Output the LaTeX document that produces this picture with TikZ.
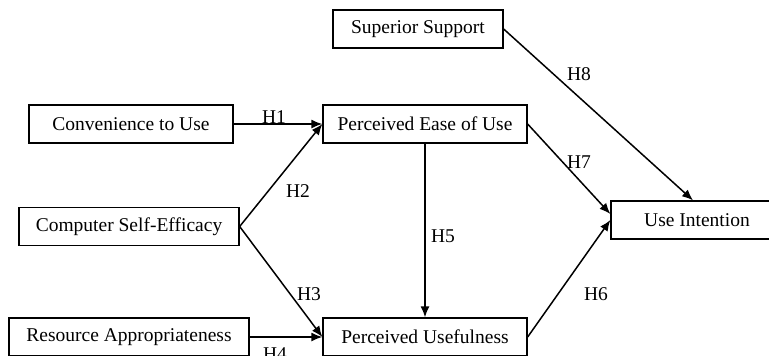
\documentclass[tikz,border=0pt]{standalone}
\usepackage{fontspec}
\setmainfont{Liberation Serif}
\usetikzlibrary{arrows.meta}

\begin{document}
\begin{tikzpicture}[x=1pt,y=-1pt,
	every node/.style={font=\fontsize{19.5pt}{23pt}\selectfont},
	box/.style={draw, line width=1.3pt, minimum height=38pt, inner sep=0pt},
	hyp/.style={anchor=base, inner sep=0pt},
	link/.style={-{Latex[length=11pt,width=9pt]}, line width=1.5pt}]
		\clip (0,0) rectangle (769,356);
		\useasboundingbox (0,0) rectangle (769,356);
		\node[box, minimum width=170pt] (sup) at (418,29) {Superior Support};
		\node[box, minimum width=204pt] (conv) at (131,124) {Convenience to Use};
		\node[box, minimum width=204pt] (peou) at (425,124) {Perceived Ease of Use};
		\node[box, minimum width=220pt] (cse) at (129,226.5) {Computer Self-Efficacy};
		\node[box, minimum width=172pt] (ui) at (697,220) {Use Intention};
		\node[box, minimum width=240pt] (ra) at (129,337) {Resource Appropriateness};
		\node[box, minimum width=204pt] (pu) at (425,337) {Perceived Usefulness};
		\draw[link] (conv.east) -- (peou.west);
		\draw[link] (cse.east) -- (peou.west);
		\draw[link] (cse.east) -- (pu.west);
		\draw[link] (ra.east) -- (pu.west);
		\draw[link] (peou.south) -- (pu.north);
		\draw[link] (pu.east) -- (ui.west);
		\draw[link] (peou.east) -- ([yshift=6pt]ui.west);
		\draw[link] (sup.east) -- ([xshift=-4pt]ui.north);
		\node[hyp] (h1) at (274,123) {H1};
		\node[hyp] (h2) at (298,197) {H2};
		\node[hyp] (h3) at (309,300) {H3};
		\node[hyp] (h4) at (275,360) {H4};
		\node[hyp] (h5) at (443,242) {H5};
		\node[hyp] (h6) at (596,300) {H6};
		\node[hyp] (h7) at (579,168) {H7};
		\node[hyp] (h8) at (579,80) {H8};
\end{tikzpicture}
\end{document}
